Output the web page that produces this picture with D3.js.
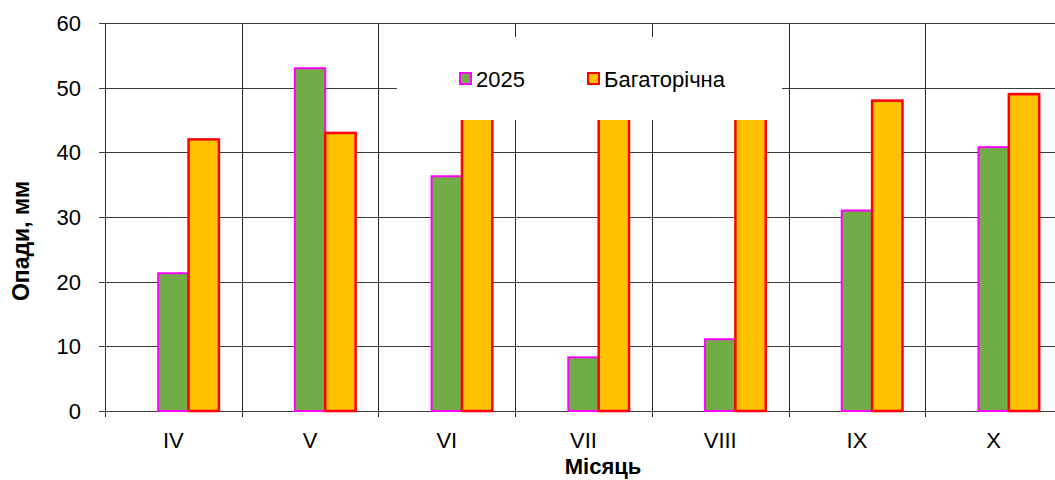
<!DOCTYPE html>
<html>
<head>
<meta charset="utf-8">
<script src="https://cdn.jsdelivr.net/npm/d3@7"></script>
<style>
  html, body { margin: 0; padding: 0; background: #fff; }
  svg { display: block; font-family: Arial, "Liberation Sans", sans-serif; }
</style>
</head>
<body>
<svg id="chart" width="1055" height="480"></svg>
<script>
// Monthly precipitation, mm
const months = ["IV", "V", "VI", "VII", "VIII", "IX", "X"];
const values2025 = [21.3, 53.0, 36.3, 8.3, 11.1, 31.0, 40.8];
const valuesLongTerm = [42, 43, 53, 56, 50, 48, 49];
const seriesNames = ["2025", "Багаторічна"];
const yTicks = [0, 10, 20, 30, 40, 50, 60];

const svg = d3.select("#chart");
const plotL = 105, plotR = 1062, plotT = 23, plotB = 411;

const x = d3.scaleBand().domain(months).range([plotL, plotR]).paddingInner(0).paddingOuter(0);
const y = d3.scaleLinear().domain([0, 60]).range([plotB, plotT]);

// three slots per cluster (first slot unused), gap of 1.5 bar widths
const barW = x.bandwidth() / (3 + 1.5);

const grid = svg.append("g");
// horizontal gridlines
grid.selectAll("line.h").data(yTicks).join("line")
  .attr("x1", plotL).attr("x2", 1055)
  .attr("y1", d => Math.round(y(d)) + 0.5).attr("y2", d => Math.round(y(d)) + 0.5)
  .attr("stroke", "#3a3a3a").attr("stroke-width", 1);
// vertical category separators
const bounds = months.map(m => x(m)).concat([plotR]);
grid.selectAll("line.v").data(bounds).join("line")
  .attr("x1", d => Math.round(d) + 0.5).attr("x2", d => Math.round(d) + 0.5)
  .attr("y1", plotT).attr("y2", plotB + 6)
  .attr("stroke", "#2a2a2a").attr("stroke-width", 1);
// y-axis ticks
grid.selectAll("line.t").data(yTicks).join("line")
  .attr("x1", plotL - 6).attr("x2", plotL)
  .attr("y1", d => Math.round(y(d)) + 0.5).attr("y2", d => Math.round(y(d)) + 0.5)
  .attr("stroke", "#3a3a3a");

// bars
const bars = svg.append("g");
bars.selectAll("rect.a").data(months).join("rect")
  .attr("x", (m) => x(m) + x.bandwidth() / 2 - barW / 2)
  .attr("y", (m, i) => y(values2025[i]))
  .attr("width", barW)
  .attr("height", (m, i) => plotB - y(values2025[i]))
  .attr("fill", "#70AD47").attr("stroke", "#FF00FF").attr("stroke-width", 2);
bars.selectAll("rect.b").data(months).join("rect")
  .attr("x", (m) => x(m) + x.bandwidth() / 2 + barW / 2)
  .attr("y", (m, i) => y(valuesLongTerm[i]))
  .attr("width", barW)
  .attr("height", (m, i) => plotB - y(valuesLongTerm[i]))
  .attr("fill", "#FFC000").attr("stroke", "#FF0000").attr("stroke-width", 2.5);

// axis labels
svg.append("g").selectAll("text").data(yTicks).join("text")
  .attr("x", 81).attr("y", d => y(d) + 8)
  .attr("text-anchor", "end").attr("font-size", 22).attr("fill", "#000")
  .text(d => d);
svg.append("g").selectAll("text").data(months).join("text")
  .attr("x", m => x(m) + x.bandwidth() / 2).attr("y", 448)
  .attr("text-anchor", "middle").attr("font-size", 22).attr("fill", "#000")
  .text(m => m);

svg.append("text")
  .attr("transform", "translate(29,241) rotate(-90)")
  .attr("text-anchor", "middle").attr("font-size", 23).attr("font-weight", "bold")
  .text("Опади, мм");
svg.append("text")
  .attr("x", 603).attr("y", 474)
  .attr("text-anchor", "middle").attr("font-size", 22).attr("font-weight", "bold")
  .text("Місяць");

// legend
const legend = svg.append("g");
legend.append("rect").attr("x", 397).attr("y", 37).attr("width", 385).attr("height", 83).attr("fill", "#fff");
const legendItems = [
  { name: seriesNames[0], fill: "#70AD47", stroke: "#FF00FF", mx: 460, tx: 476 },
  { name: seriesNames[1], fill: "#FFC000", stroke: "#FF0000", mx: 588, tx: 604 }
];
legendItems.forEach(it => {
  legend.append("rect").attr("x", it.mx).attr("y", 73).attr("width", 11).attr("height", 11)
    .attr("fill", it.fill).attr("stroke", it.stroke).attr("stroke-width", 2);
  legend.append("text").attr("x", it.tx).attr("y", 87).attr("font-size", 22).text(it.name);
});
</script>
</body>
</html>
